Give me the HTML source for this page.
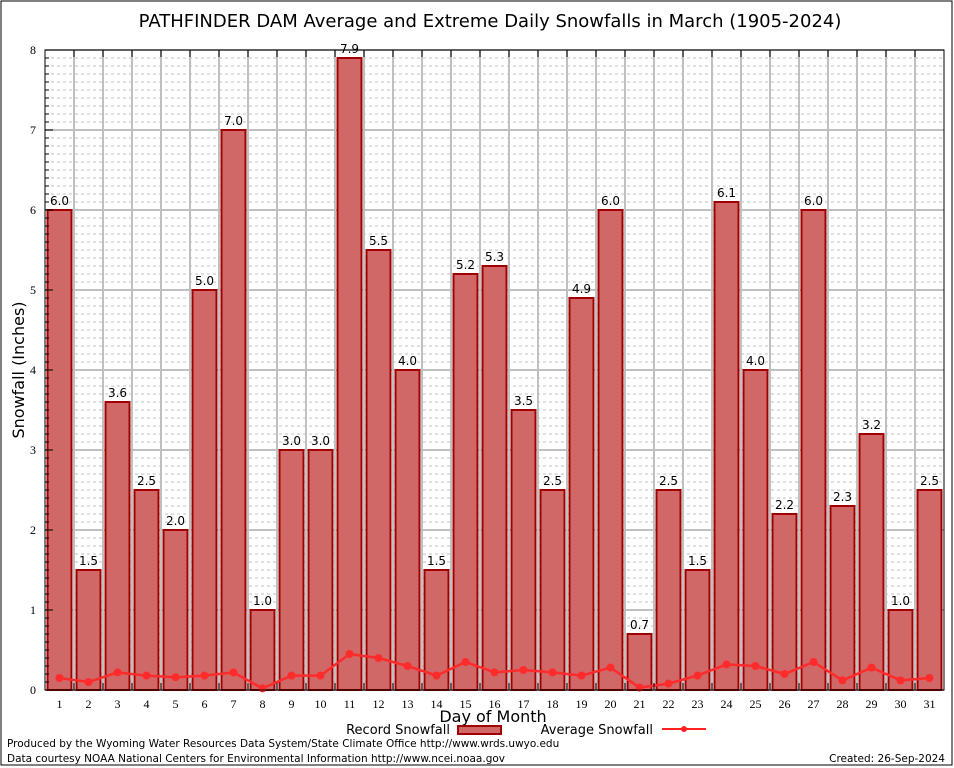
<!DOCTYPE html>
<html><head><meta charset="utf-8"><style>
body{margin:0;background:#fff;}
svg{display:block;font-family:"DejaVu Sans","Liberation Sans",sans-serif;}
</style></head><body>
<svg id="chart" width="954" height="768" viewBox="0 0 954 768">
<rect x="1" y="1" width="951" height="764" fill="#fff" stroke="#000" stroke-width="1"/>
<text x="490" y="27" font-size="18" text-anchor="middle">PATHFINDER DAM Average and Extreme Daily Snowfalls in March (1905-2024)</text>
<g id="grid"></g>
<g id="bars"></g>
<g id="avg"></g>
<g id="axes"></g>
<text x="24" y="370" font-size="16" text-anchor="middle" transform="rotate(-90 24 370)">Snowfall (Inches)</text>
<text x="493" y="722" font-size="16" text-anchor="middle">Day of Month</text>
<g>
<text x="450" y="734" font-size="13" text-anchor="end">Record Snowfall</text>
<rect x="458" y="726" width="43" height="8" fill="#d06868" stroke="#a00000" stroke-width="2"/>
<text x="653" y="734" font-size="13" text-anchor="end">Average Snowfall</text>
<line x1="662" y1="729" x2="706" y2="729" stroke="#ff2020" stroke-width="2"/>
<circle cx="684" cy="729" r="3" fill="#ff2020"/>
</g>
<text x="7" y="747" font-size="10.5">Produced by the Wyoming Water Resources Data System/State Climate Office http://www.wrds.uwyo.edu</text>
<text x="7" y="762" font-size="10.5">Data courtesy NOAA National Centers for Environmental Information http://www.ncei.noaa.gov</text>
<text x="945" y="762" font-size="10.5" text-anchor="end">Created: 26-Sep-2024</text>
</svg>
<script>
const days = [1,2,3,4,5,6,7,8,9,10,11,12,13,14,15,16,17,18,19,20,21,22,23,24,25,26,27,28,29,30,31];
const recordSnow = [6.0,1.5,3.6,2.5,2.0,5.0,7.0,1.0,3.0,3.0,7.9,5.5,4.0,1.5,5.2,5.3,3.5,2.5,4.9,6.0,0.7,2.5,1.5,6.1,4.0,2.2,6.0,2.3,3.2,1.0,2.5];
const avgSnow = [0.15,0.1,0.22,0.18,0.16,0.18,0.22,0.02,0.18,0.18,0.45,0.4,0.3,0.18,0.35,0.22,0.25,0.22,0.18,0.28,0.03,0.08,0.18,0.32,0.3,0.2,0.35,0.12,0.28,0.12,0.15];
const yTicks = [0,1,2,3,4,5,6,7,8];

const NS="http://www.w3.org/2000/svg";
const L=45,R=944,T=50,B=690,yMax=8;
const pitch=(R-L)/days.length;
const xs=i=>L+pitch*(i+0.5);
const ys=v=>B-(v/yMax)*(B-T);
function mk(tag,attrs,parent){const e=document.createElementNS(NS,tag);for(const k in attrs)e.setAttribute(k,attrs[k]);parent.appendChild(e);return e;}
const grid=document.getElementById('grid'),bars=document.getElementById('bars'),avg=document.getElementById('avg'),axes=document.getElementById('axes');

for(let k=1;k<yMax*10;k++){if(k%10===0)continue;const y=ys(k/10);
 const e=mk('line',{x1:L,x2:R,y1:y,y2:y,stroke:'#c0c0c0','stroke-width':1,'stroke-dasharray':'3,3'},grid);
 
 
 const t=mk('line',{x1:L,x2:L+4,y1:y,y2:y,stroke:'#000','stroke-width':1},axes);
 
 
}
yTicks.forEach(v=>{const y=ys(v);
 const e=mk('line',{x1:L,x2:R,y1:y,y2:y,stroke:'#c0c0c0','stroke-width':2},grid);
 
 
 const t=mk('line',{x1:L,x2:L+8,y1:y,y2:y,stroke:'#000','stroke-width':1},axes);
 
 
 const lb=mk('text',{x:L-9,y:y+4,'font-size':12,'text-anchor':'end','font-family':'Liberation Serif, serif'},axes);
 lb.textContent=v;
 
 
});
for(let i=1;i<days.length;i++){const x=L+pitch*i;
 const e=mk('line',{x1:x,x2:x,y1:T,y2:B,stroke:'#c0c0c0','stroke-width':2},grid);
 
 
 const t1=mk('line',{x1:x,x2:x,y1:T,y2:T+7,stroke:'#000','stroke-width':1},axes);
 
 
 const t2=mk('line',{x1:x,x2:x,y1:B,y2:B-7,stroke:'#000','stroke-width':1},axes);
 
 
}
days.forEach((d,i)=>{
 const v=recordSnow[i],x=xs(i),y=ys(v);
 const r=mk('rect',{x:x-12,y:y,width:24,height:B-y,fill:'#d06868',stroke:'#a00000','stroke-width':2},bars);
 
 
 const t=mk('text',{x:x,y:y-5,'font-size':12,'text-anchor':'middle'},bars);
 t.textContent=v.toFixed(1);
 
 
 const xl=mk('text',{x:x,y:B+18,'font-size':12,'text-anchor':'middle','font-family':'Liberation Serif, serif'},axes);
 xl.textContent=d;
 
 
});
const pl=mk('polyline',{points:avgSnow.map((v,i)=>xs(i)+','+ys(v)).join(' '),fill:'none',stroke:'#ff2a2a','stroke-width':2.5},avg);


avgSnow.forEach((v,i)=>{
 const c=mk('circle',{cx:xs(i),cy:ys(v),r:4,fill:'#ff2a2a'},avg);
 
 
});
const f=mk('rect',{x:L,y:T,width:R-L,height:B-T,fill:'none',stroke:'#000','stroke-width':1},axes);


</script>
</body></html>
